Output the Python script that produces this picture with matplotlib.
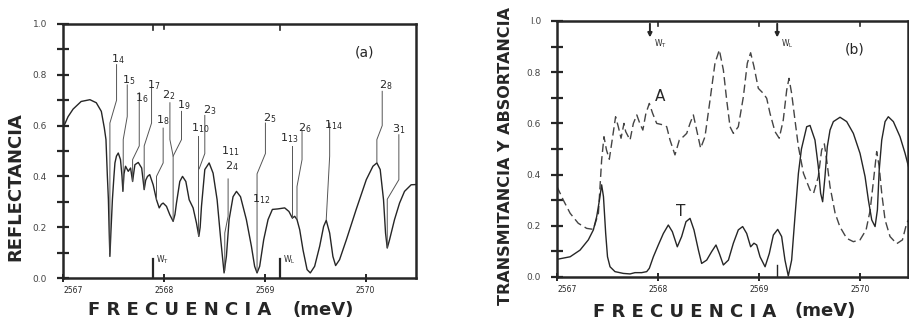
import matplotlib
matplotlib.use('Agg')
import matplotlib.pyplot as plt

# ---------------- data: panel (a) reflectance ----------------
freq_a = [2567.0, 2567.05, 2567.1, 2567.18, 2567.267, 2567.33, 2567.38, 2567.41, 2567.426, 2567.44,
          2567.45, 2567.458, 2567.465, 2567.475, 2567.49, 2567.505, 2567.515, 2567.53, 2567.548, 2567.57,
          2567.585, 2567.594, 2567.605, 2567.62, 2567.647, 2567.67, 2567.69, 2567.7, 2567.713, 2567.746,
          2567.78, 2567.805, 2567.82, 2567.838, 2567.86, 2567.894, 2567.927, 2567.954, 2567.975, 2567.993,
          2568.026, 2568.059, 2568.092, 2568.11, 2568.125, 2568.158, 2568.185, 2568.218, 2568.251, 2568.29,
          2568.323, 2568.347, 2568.36, 2568.373, 2568.406, 2568.449, 2568.488, 2568.528, 2568.564, 2568.597,
          2568.62, 2568.647, 2568.686, 2568.72, 2568.76, 2568.818, 2568.868, 2568.9, 2568.924, 2568.95,
          2568.99, 2569.033, 2569.076, 2569.13, 2569.198, 2569.24, 2569.274, 2569.297, 2569.32, 2569.347,
          2569.38, 2569.42, 2569.452, 2569.495, 2569.545, 2569.584, 2569.61, 2569.644, 2569.676, 2569.703,
          2569.742, 2569.81, 2569.907, 2570.007, 2570.073, 2570.112, 2570.145, 2570.178, 2570.198, 2570.215,
          2570.238, 2570.287, 2570.337, 2570.386, 2570.452, 2570.5]
refl_a = [0.59, 0.635, 0.665, 0.695, 0.702, 0.69, 0.656, 0.59, 0.545, 0.40,
          0.31, 0.18, 0.085, 0.18, 0.31, 0.40, 0.453, 0.48, 0.492, 0.466,
          0.40, 0.341, 0.41, 0.44, 0.42, 0.433, 0.38, 0.41, 0.446, 0.455,
          0.433, 0.348, 0.385, 0.40, 0.407, 0.367, 0.308, 0.276, 0.29, 0.295,
          0.282, 0.249, 0.223, 0.25, 0.295, 0.38, 0.40, 0.38, 0.308, 0.276,
          0.217, 0.164, 0.20, 0.282, 0.427, 0.453, 0.413, 0.308, 0.151, 0.02,
          0.085, 0.23, 0.32, 0.341, 0.32, 0.23, 0.125, 0.046, 0.02, 0.046,
          0.151, 0.23, 0.27, 0.272, 0.276, 0.262, 0.236, 0.243, 0.23, 0.19,
          0.11, 0.033, 0.02, 0.046, 0.125, 0.203, 0.227, 0.177, 0.085, 0.049,
          0.072, 0.151, 0.27, 0.387, 0.44, 0.453, 0.427, 0.308, 0.177, 0.118,
          0.151, 0.23, 0.295, 0.341, 0.367, 0.368]

# annotation labels of panel (a): (main, subscript, label x, label y, leader line points)
labels_a = [
    ('1', '4', 2567.548, 0.86, [(2567.531, 0.84), (2567.531, 0.70), (2567.465, 0.61), (2567.465, 0.10)]),
    ('1', '5', 2567.647, 0.78, [(2567.637, 0.76), (2567.637, 0.636), (2567.597, 0.545), (2567.597, 0.35)]),
    ('1', '6', 2567.78, 0.71, [(2567.756, 0.73), (2567.756, 0.52), (2567.69, 0.466), (2567.69, 0.38)]),
    ('1', '7', 2567.90, 0.76, [(2567.878, 0.75), (2567.878, 0.61), (2567.805, 0.52), (2567.805, 0.35)]),
    ('2', '2', 2568.05, 0.72, [(2568.06, 0.69), (2568.06, 0.545), (2568.092, 0.48), (2568.092, 0.225)]),
    ('1', '8', 2567.99, 0.62, [(2567.993, 0.59), (2567.993, 0.453), (2567.927, 0.40), (2567.927, 0.31)]),
    ('1', '9', 2568.20, 0.68, [(2568.175, 0.656), (2568.175, 0.545), (2568.092, 0.48)]),
    ('1', '10', 2568.36, 0.59, [(2568.34, 0.56), (2568.34, 0.166)]),
    ('2', '3', 2568.455, 0.66, [(2568.406, 0.64), (2568.406, 0.49), (2568.35, 0.43)]),
    ('1', '11', 2568.66, 0.50, [(2568.637, 0.39), (2568.637, 0.243), (2568.604, 0.177), (2568.604, 0.03)]),
    ('2', '4', 2568.67, 0.44, None),
    ('2', '5', 2569.05, 0.63, [(2569.007, 0.61), (2569.007, 0.49), (2568.924, 0.41), (2568.924, 0.025)]),
    ('1', '12', 2568.96, 0.31, None),
    ('1', '13', 2569.24, 0.55, [(2569.27, 0.52), (2569.27, 0.238)]),
    ('2', '6', 2569.40, 0.59, [(2569.37, 0.58), (2569.37, 0.466), (2569.32, 0.36), (2569.32, 0.232)]),
    ('1', '14', 2569.677, 0.60, [(2569.644, 0.61), (2569.644, 0.48), (2569.61, 0.23)]),
    ('2', '8', 2570.20, 0.76, [(2570.165, 0.735), (2570.165, 0.60), (2570.112, 0.545), (2570.112, 0.455)]),
    ('3', '1', 2570.33, 0.585, [(2570.33, 0.564), (2570.33, 0.387), (2570.215, 0.31), (2570.215, 0.12)]),
]

# ---------------- data: panel (b) ----------------
freq_abs = [2567.0, 2567.063, 2567.13, 2567.21, 2567.294, 2567.36, 2567.41, 2567.426, 2567.442, 2567.465,
            2567.49, 2567.518, 2567.551, 2567.58, 2567.607, 2567.634, 2567.663, 2567.68, 2567.723, 2567.756,
            2567.79, 2567.82, 2567.85, 2567.88, 2567.914, 2567.947, 2567.987, 2568.053, 2568.086, 2568.119,
            2568.168, 2568.211, 2568.25, 2568.284, 2568.317, 2568.35, 2568.39, 2568.422, 2568.465, 2568.515,
            2568.564, 2568.607, 2568.647, 2568.68, 2568.713, 2568.746, 2568.795, 2568.845, 2568.884, 2568.917,
            2568.95, 2568.993, 2569.043, 2569.076, 2569.109, 2569.158, 2569.2, 2569.24, 2569.274, 2569.297,
            2569.323, 2569.356, 2569.39, 2569.44, 2569.505, 2569.54, 2569.587, 2569.62, 2569.647, 2569.67,
            2569.703, 2569.753, 2569.8, 2569.868, 2569.934, 2570.0, 2570.06, 2570.1, 2570.13, 2570.165,
            2570.19, 2570.215, 2570.248, 2570.297, 2570.363, 2570.42, 2570.462, 2570.48]
absort = [0.353, 0.30, 0.249, 0.21, 0.19, 0.186, 0.249, 0.353, 0.457, 0.548,
          0.496, 0.46, 0.548, 0.626, 0.587, 0.542, 0.60, 0.568, 0.535, 0.60,
          0.633, 0.60, 0.574, 0.639, 0.678, 0.639, 0.60, 0.594, 0.587, 0.535,
          0.477, 0.535, 0.548, 0.561, 0.60, 0.633, 0.561, 0.503, 0.548, 0.691,
          0.835, 0.887, 0.809, 0.691, 0.587, 0.561, 0.587, 0.704, 0.835, 0.876,
          0.822, 0.737, 0.717, 0.698, 0.639, 0.568, 0.542, 0.613, 0.73, 0.776,
          0.717, 0.613, 0.509, 0.405, 0.34, 0.327, 0.392, 0.496, 0.52, 0.457,
          0.353, 0.25, 0.197, 0.151, 0.138, 0.145, 0.184, 0.26, 0.365, 0.49,
          0.43, 0.327, 0.223, 0.158, 0.13, 0.145, 0.21, 0.223]

freq_tr = [2567.0, 2567.13, 2567.228, 2567.31, 2567.36, 2567.393, 2567.42, 2567.442, 2567.46, 2567.482,
           2567.50, 2567.525, 2567.574, 2567.657, 2567.723, 2567.772, 2567.838, 2567.888, 2567.914, 2567.954,
           2568.003, 2568.053, 2568.102, 2568.142, 2568.191, 2568.234, 2568.277, 2568.317, 2568.356, 2568.40,
           2568.432, 2568.482, 2568.531, 2568.574, 2568.607, 2568.647, 2568.697, 2568.746, 2568.795, 2568.838,
           2568.878, 2568.917, 2568.95, 2568.977, 2569.01, 2569.06, 2569.102, 2569.142, 2569.185, 2569.224,
           2569.257, 2569.29, 2569.323, 2569.356, 2569.39, 2569.42, 2569.472, 2569.505, 2569.554, 2569.587,
           2569.61, 2569.63, 2569.653, 2569.676, 2569.703, 2569.736, 2569.802, 2569.868, 2569.934, 2570.0,
           2570.05, 2570.083, 2570.116, 2570.149, 2570.172, 2570.19, 2570.215, 2570.248, 2570.28, 2570.33,
           2570.396, 2570.446, 2570.48]
trans = [0.069, 0.079, 0.105, 0.145, 0.184, 0.236, 0.30, 0.36, 0.314, 0.17,
         0.079, 0.04, 0.021, 0.014, 0.012, 0.017, 0.017, 0.021, 0.034, 0.079,
         0.125, 0.17, 0.203, 0.177, 0.118, 0.158, 0.216, 0.229, 0.184, 0.105,
         0.053, 0.066, 0.099, 0.125, 0.092, 0.047, 0.066, 0.132, 0.184, 0.197,
         0.17, 0.118, 0.132, 0.125, 0.079, 0.04, 0.092, 0.164, 0.186, 0.158,
         0.066, 0.004, 0.066, 0.236, 0.405, 0.50, 0.587, 0.592, 0.535, 0.431,
         0.327, 0.294, 0.392, 0.509, 0.574, 0.607, 0.624, 0.607, 0.561, 0.483,
         0.392, 0.30, 0.223, 0.197, 0.262, 0.418, 0.535, 0.607, 0.626, 0.607,
         0.548, 0.483, 0.431]

xticks = [2567, 2568, 2569, 2570]
xticklabels = ['2567', '2568', '2569', '2570']
yticks = [0.0, 0.2, 0.4, 0.6, 0.8, 1.0]
yticklabels_a = ['0.0', '0.2', '0.4', '0.6', '0.8', '1.0']
yticklabels_b = ['0.0', '0.2', '0.4', '0.6', '0.8', 'I.0']

# ---------------- figure ----------------
W, H = 909, 326
fig = plt.figure(figsize=(W / 100, H / 100), dpi=100)
fig.patch.set_facecolor('white')
ink = '#262626'
plt.rcParams['mathtext.default'] = 'regular'

def px_axes(l, r, t, b):
    return fig.add_axes([l / W, 1 - b / H, (r - l) / W, (b - t) / H])

def style(ax, ylabels):
    ax.set_ylim(0, 1.0)
    ax.set_xticks(xticks)
    ax.set_xticklabels(xticklabels, fontsize=5.5, color=ink)
    ax.set_yticks(yticks)
    ax.set_yticklabels(ylabels, fontsize=6.5, color='#444444')
    ax.set_yticks([0.1, 0.3, 0.5, 0.7, 0.9], minor=True)
    ax.tick_params(axis='y', which='both', direction='inout', length=9, width=1.6,
                   color=ink, pad=7, right=False)
    ax.tick_params(axis='x', which='major', direction='inout', length=6, width=1.4,
                   color=ink, pad=3, top=False)
    for s in ax.spines.values():
        s.set_linewidth(1.8)
        s.set_color(ink)
    lbls = ax.get_xticklabels()
    lbls[0].set_horizontalalignment('left')

# ---------------- panel (a) ----------------
axa = px_axes(63, 416, 24, 278)
axa.set_xlim(2567, 2570.5)
axa.plot(freq_a, refl_a, color=ink, lw=1.0)
style(axa, yticklabels_a)
for main, sub, lx, ly, path in labels_a:
    axa.text(lx, ly, r'$%s_{%s}$' % (main, sub), fontsize=8, color=ink,
             ha='center', va='center')
    if path:
        xs = [p[0] for p in path]
        ys = [p[1] for p in path]
        axa.plot(xs, ys, color='#555555', lw=0.7)
axa.text(2569.99, 0.886, '(a)', fontsize=10, color=ink, ha='center', va='center')
for wx, wl in [(2567.894, 'T'), (2569.155, 'L')]:
    axa.plot([wx, wx], [0.0, 0.075], color=ink, lw=1.6)
    axa.text(wx + 0.03, 0.07, r'$W_{%s}$' % wl, fontsize=5.5, color=ink, ha='left', va='center')
    axa.plot([wx, wx], [1.0, 0.975], color=ink, lw=1.2)
axa.plot([2568.0, 2568.0], [1.0, 0.98], color=ink, lw=1.2)

# ---------------- panel (b) ----------------
axb = px_axes(557, 908, 21, 277)
axb.set_xlim(2567, 2570.475)
axb.plot(freq_abs, absort, color='#444444', lw=1.0, ls=(0, (6, 3)))
axb.plot(freq_tr, trans, color=ink, lw=1.0)
style(axb, yticklabels_b)
axb.text(2568.02, 0.704, 'A', fontsize=11, color=ink, ha='center', va='center')
axb.text(2568.224, 0.255, 'T', fontsize=11, color=ink, ha='center', va='center')
axb.text(2569.95, 0.887, '(b)', fontsize=10, color=ink, ha='center', va='center')
for wx, wl in [(2567.92, 'T'), (2569.18, 'L')]:
    axb.annotate('', xy=(wx, 0.925), xytext=(wx, 1.0),
                 arrowprops=dict(arrowstyle='-|>', color=ink, lw=1.4, mutation_scale=6))
    axb.text(wx + 0.04, 0.91, r'$W_{%s}$' % wl, fontsize=5.5, color=ink, ha='left', va='center')
axb.plot([2569.18, 2569.18], [0.0, 0.045], color=ink, lw=1.0)
for tx in [2568, 2569, 2570]:
    axb.plot([tx, tx], [1.0, 0.98], color=ink, lw=1.2)

# ---------------- axis titles ----------------
lab = dict(fontsize=13, fontweight='bold', color=ink, family='DejaVu Sans')
fig.text(180 / W, 1 - 310 / H, 'F R E C U E N C I A', ha='center', va='center', **lab)
fig.text(323 / W, 1 - 310 / H, '(meV)', ha='center', va='center', **lab)
fig.text(685 / W, 1 - 312 / H, 'F R E C U E N C I A', ha='center', va='center', **lab)
fig.text(825 / W, 1 - 311 / H, '(meV)', ha='center', va='center', **lab)
fig.text(15 / W, 1 - 187 / H, 'REFLECTANCIA', rotation=90, ha='center', va='center', **lab)
fig.text(506 / W, 1 - 156 / H, 'TRANSMITANCIA Y ABSORTANCIA', rotation=90, ha='center',
         va='center', fontsize=11.5, fontweight='bold', color=ink, family='DejaVu Sans')

fig.savefig('out.png', dpi=100, facecolor='white')
